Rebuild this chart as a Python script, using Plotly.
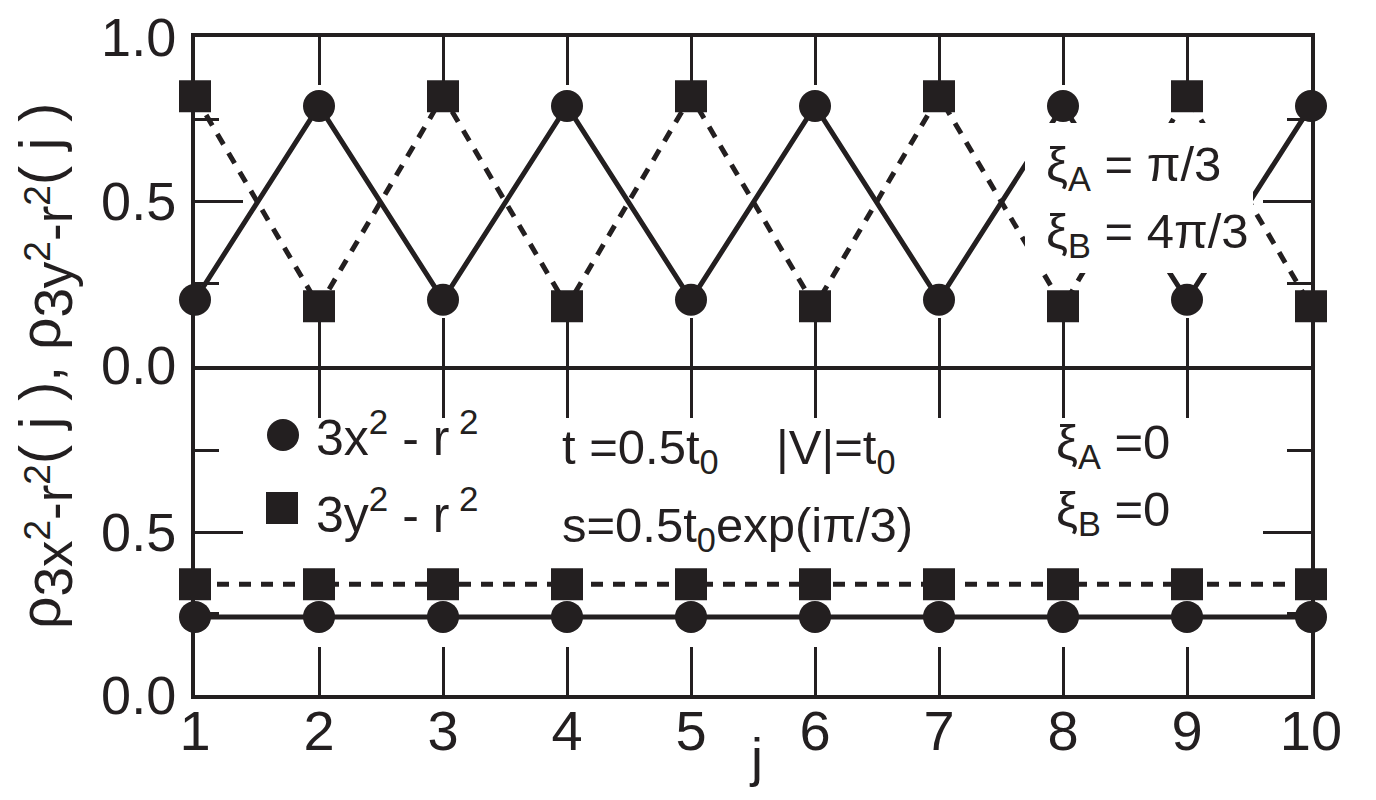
import plotly.graph_objects as go

# ---- data ----
j = [1, 2, 3, 4, 5, 6, 7, 8, 9, 10]
top_3x2 = [0.20, 0.79, 0.20, 0.79, 0.20, 0.79, 0.20, 0.79, 0.20, 0.79]
top_3y2 = [0.82, 0.18, 0.82, 0.18, 0.82, 0.18, 0.82, 0.18, 0.82, 0.18]
bot_3x2 = [0.24, 0.24, 0.24, 0.24, 0.24, 0.24, 0.24, 0.24, 0.24, 0.24]
bot_3y2 = [0.34, 0.34, 0.34, 0.34, 0.34, 0.34, 0.34, 0.34, 0.34, 0.34]
ytick_vals = [0, 0.5, 1.0]
ytick_top = ["0.0", "0.5", "1.0"]
ytick_bot = ["0.0", "0.5", ""]

INK = "#231f20"
FONT = "Liberation Sans, Arial, sans-serif"
MS = 32

fig = go.Figure()

def add(y, xa, ya, sym, dash):
    fig.add_trace(go.Scatter(
        x=j, y=y, xaxis=xa, yaxis=ya, mode="lines+markers",
        line=dict(color=INK, width=5, dash=dash),
        marker=dict(symbol=sym, size=MS, color=INK),
        cliponaxis=False, showlegend=False))

add(top_3y2, "x2", "y2", "square", "12px,10px")
add(top_3x2, "x2", "y2", "circle", "solid")
add(bot_3y2, "x", "y", "square", "12px,10px")
add(bot_3x2, "x", "y", "circle", "solid")

xcommon = dict(range=[1, 10], dtick=1, tick0=1, ticks="inside", ticklen=48,
               tickwidth=3, tickcolor=INK, showline=True, linewidth=4,
               linecolor=INK, mirror="ticks", showgrid=False, zeroline=False,
               ticklabeloverflow="allow", automargin=False)
ycommon = dict(range=[0, 1], tickvals=ytick_vals, ticks="inside", ticklen=48,
               tickwidth=3, tickcolor=INK, showline=True, linewidth=4,
               linecolor=INK, mirror="ticks", showgrid=False, zeroline=False,
               minor=dict(tickvals=[0.25, 0.75], ticks="inside", ticklen=24,
                          tickwidth=3, tickcolor=INK),
               ticklabelstandoff=4, ticklabeloverflow="allow", automargin=False,
               tickfont=dict(size=54, color=INK, family=FONT))

# page is drawn with an 8px body margin -> figure 1360x784
W, H = 1360, 784
L, R, T, B = 195, 1311, 37, 695          # inner plot edges in page px
ML, MR, MT, MB = L - 8, (8 + W) - R, T - 8, (8 + H) - B
PH = B - T
PW = R - L
bot_dom = [0, (B - 369.5) / PH]
top_dom = [(B - 365.5) / PH, 1]

fig.update_layout(
    width=W, height=H,
    margin=dict(l=ML, r=MR, t=MT, b=MB, autoexpand=False),
    paper_bgcolor="white", plot_bgcolor="white",
    font=dict(family=FONT, color=INK),
    xaxis=dict(**xcommon, anchor="y", domain=[0, 1], ticklabelstandoff=-16,
               tickfont=dict(size=56, color=INK, family=FONT)),
    xaxis2=dict(**xcommon, anchor="y2", domain=[0, 1], matches="x",
                showticklabels=False),
    yaxis=dict(**ycommon, domain=bot_dom, anchor="x", ticktext=ytick_bot),
    yaxis2=dict(**ycommon, domain=top_dom, anchor="x2", ticktext=ytick_top),
)

def px2paper(px, py):
    return (px - L) / PW, (B - py) / PH

# white box behind xi labels in the top panel
bx0, by0 = px2paper(1025, 273)
bx1, by1 = px2paper(1253, 123)
fig.add_shape(type="rect", xref="paper", yref="paper", x0=bx0, x1=bx1,
              y0=by0, y1=by1, fillcolor="white", line_width=0, layer="above")

# legend keys
cx, cy = px2paper(283, 435)
fig.add_shape(type="circle", xref="paper", yref="paper", xsizemode="pixel",
              ysizemode="pixel", xanchor=cx, yanchor=cy, x0=-16, x1=16,
              y0=-16, y1=16, fillcolor=INK, line_width=0)
sx, sy = px2paper(282, 508)
fig.add_shape(type="rect", xref="paper", yref="paper", xsizemode="pixel",
              ysizemode="pixel", xanchor=sx, yanchor=sy, x0=-16, x1=16,
              y0=-16, y1=16, fillcolor=INK, line_width=0)

def ann(text, px, py, size=49, xanchor="left", yanchor="middle", angle=0):
    x, y = px2paper(px, py)
    fig.add_annotation(text=text, x=x, y=y, xref="paper", yref="paper",
                       xanchor=xanchor, yanchor=yanchor, showarrow=False,
                       textangle=angle, align="left",
                       font=dict(size=size, color=INK, family=FONT))

ann("3x<sup>2</sup> - r<sup> 2</sup>", 314, 434, size=50)
ann("3y<sup>2</sup> - r<sup> 2</sup>", 314, 511, size=50)
ann("t =0.5t<sub>0</sub>", 560, 450)
ann("|V|=t<sub>0</sub>", 774, 450)
ann("ξ<sub>A</sub> =0", 1054, 445)
ann("s=0.5t<sub>0</sub>exp(iπ/3)", 560, 528)
ann("ξ<sub>B</sub> =0", 1054, 513)
ann("ξ<sub>A</sub> = π/3", 1044, 167)
ann("ξ<sub>B</sub> = 4π/3", 1044, 235)

SUB = "<sub><span style='font-size:53px'>3%s<sup>2</sup>-r<sup>2</sup></span></sub>"
ytitle = "ρ" + SUB % "x" + "( j ), ρ" + SUB % "y" + "( j )"
ann(ytitle, 45, 366, size=57, xanchor="center", angle=-90)
ann("j", 756, 789, size=54, xanchor="center", yanchor="bottom")

fig.write_html("out.html")
